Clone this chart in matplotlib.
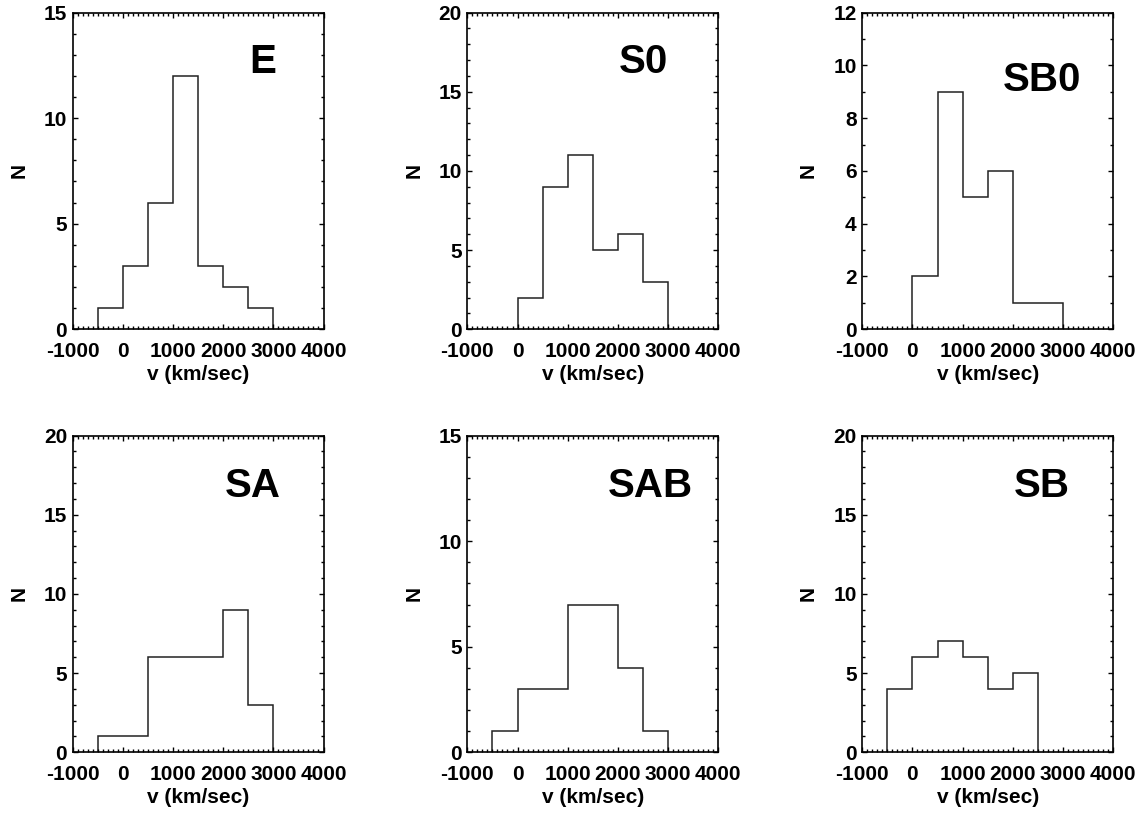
import matplotlib
matplotlib.use("Agg")
import matplotlib.pyplot as plt
from matplotlib.ticker import MultipleLocator

plt.rcParams['font.family'] = ['Liberation Sans', 'DejaVu Sans']
plt.rcParams['font.weight'] = 'bold'

# galaxy types and velocity histograms (bin edges in km/s, counts per bin)
types = ['E', 'S0', 'SB0', 'SA', 'SAB', 'SB']
edges = [
    [-500, 0, 500, 1000, 1500, 2000, 2500, 3000],
    [0, 500, 1000, 1500, 2000, 2500, 3000],
    [0, 500, 1000, 1500, 2000, 2500, 3000],
    [-500, 0, 500, 1000, 1500, 2000, 2500, 3000],
    [-500, 0, 500, 1000, 1500, 2000, 2500, 3000],
    [-500, 0, 500, 1000, 1500, 2000, 2500],
]
counts = [
    [1, 3, 6, 12, 3, 2, 1],
    [2, 9, 11, 5, 6, 3],
    [2, 9, 5, 6, 1, 1],
    [1, 1, 6, 6, 6, 9, 3],
    [1, 3, 3, 7, 7, 4, 1],
    [4, 6, 7, 6, 4, 5],
]
ymax = [15, 20, 12, 20, 15, 20]
ymajor = [5, 5, 2, 5, 5, 5]
xticks = [-1000, 0, 1000, 2000, 3000, 4000]

fig = plt.figure(figsize=(11.48, 8.14), dpi=100)

lefts = [0.0633, 0.4071, 0.7511]
bottoms = [0.5955, 0.0758]
w, h = 0.2185, 0.389
label_pos = [(0.758, 0.845), (0.703, 0.845), (0.716, 0.787),
             (0.717, 0.842), (0.73, 0.842), (0.716, 0.842)]

for i, t in enumerate(types):
    ax = fig.add_axes([lefts[i % 3], bottoms[i // 3], w, h])
    ax.stairs(counts[i], edges[i], color='#222222', lw=1.1)
    ax.set_xlim(-1000, 4000)
    ax.set_ylim(0, ymax[i])
    ax.set_xticks(xticks)
    ax.set_xticklabels([str(x) for x in xticks])
    ax.xaxis.set_minor_locator(MultipleLocator(100))
    ax.yaxis.set_major_locator(MultipleLocator(ymajor[i]))
    ax.yaxis.set_minor_locator(MultipleLocator(1))
    ax.tick_params(which='both', direction='in', top=True, right=True,
                   labelsize=15, width=1)
    ax.tick_params(which='major', length=3.5)
    ax.tick_params(which='minor', length=2)
    ax.tick_params(axis='x', which='major', pad=9)
    ax.tick_params(axis='y', which='major', pad=4)
    for s in ax.spines.values():
        s.set_linewidth(1.2)
    ax.set_xlabel('v (km/sec)', fontsize=15, fontweight='bold', labelpad=3)
    ax.set_ylabel('N', fontsize=15, fontweight='bold', labelpad=11)
    ax.text(label_pos[i][0], label_pos[i][1], t, transform=ax.transAxes,
            ha='center', va='center', fontsize=29, fontweight='bold')

fig.savefig('out.png', dpi=100)
